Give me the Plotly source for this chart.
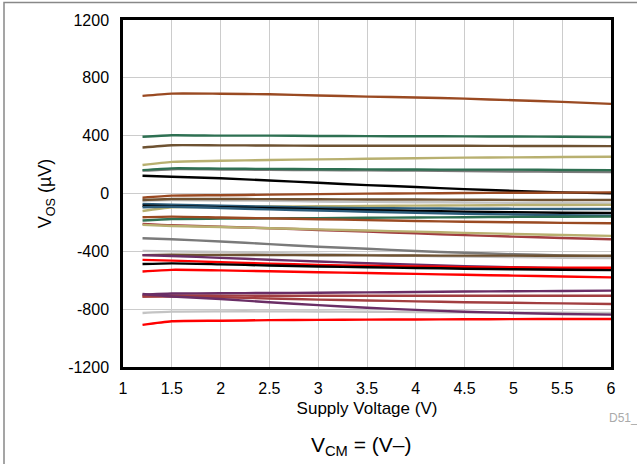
import plotly.graph_objects as go

x_vals = [1.2, 1.5, 2, 2.5, 3, 3.5, 4, 4.5, 5, 5.5, 6]
y_tickvals = [-1200, -800, -400, 0, 400, 800, 1200]
y_ticktext = ["-1200", "-800", "-400", "0", "400", "800", "1200"]
x_tickvals = [1, 1.5, 2, 2.5, 3, 3.5, 4, 4.5, 5, 5.5, 6]
x_ticktext = ["1", "1.5", "2", "2.5", "3", "3.5", "4", "4.5", "5", "5.5", "6"]

brown_top = [675, 691, 690, 686, 678, 670, 664, 656, 645, 634, 620]
green_top = [392, 403, 400, 400, 398, 397, 396, 395, 394, 392, 390]
dkbrown_top = [318, 334, 333, 332, 330, 330, 330, 330, 329, 329, 328]
khaki_top = [197, 219, 226, 232, 236, 240, 244, 248, 250, 252, 254]
gray_hi = [158, 168, 166, 164, 162, 160, 158, 155, 152, 150, 148]
green_2 = [162, 174, 172, 170, 168, 167, 166, 165, 165, 163, 162]
black_1 = [123, 116, 105, 90, 74, 58, 45, 30, 18, 8, 1]
brown_zero = [-29, -15, -12, -8, -4, -1, 1, 3, 5, 6, 8]
dkbrown_2 = [-45, -38, -38, -39, -40, -41, -42, -43, -44, -45, -45]
ltgray_a = [-50, -45, -48, -50, -55, -58, -60, -62, -64, -66, -68]
khaki_2 = [-121, -95, -92, -90, -88, -86, -84, -82, -80, -80, -79]
blue_1 = [-72, -78, -85, -92, -98, -101, -103, -105, -106, -107, -107]
black_2 = [-85, -88, -95, -102, -108, -115, -120, -126, -130, -133, -135]
blue_2 = [-95, -92, -100, -110, -118, -126, -133, -140, -145, -150, -153]
green_3 = [-187, -176, -174, -172, -170, -168, -166, -164, -162, -161, -160]
brown_2 = [-164, -160, -166, -172, -178, -184, -190, -195, -199, -203, -206]
dkred_1 = [-210, -220, -230, -240, -252, -264, -275, -288, -298, -308, -316]
khaki_3 = [-217, -225, -232, -240, -248, -256, -264, -272, -280, -287, -293]
gray_1 = [-309, -316, -332, -350, -368, -382, -398, -410, -420, -428, -436]
ltgray_b = [-397, -400, -405, -412, -418, -425, -431, -436, -440, -444, -447]
dkbrown_3 = [-426, -424, -425, -426, -427, -428, -429, -430, -430, -431, -431]
purple_1 = [-426, -432, -445, -458, -470, -482, -492, -502, -510, -516, -522]
red_1 = [-459, -464, -475, -485, -494, -500, -505, -509, -512, -513, -514]
black_3 = [-488, -483, -490, -498, -505, -510, -515, -520, -524, -527, -530]
red_2 = [-539, -528, -532, -538, -545, -550, -556, -562, -568, -574, -580]
purple_flat = [-700, -692, -690, -688, -686, -684, -681, -678, -676, -674, -672]
dkred_flat = [-712, -705, -706, -707, -707, -707, -707, -707, -707, -707, -707]
dkred_dec = [-712, -712, -718, -726, -734, -740, -746, -752, -756, -760, -764]
purple_dec = [-695, -712, -730, -752, -772, -790, -805, -818, -826, -833, -838]
ltgray_c = [-826, -817, -815, -815, -816, -818, -820, -822, -824, -825, -826]
red_bottom = [-909, -884, -880, -876, -874, -872, -871, -870, -869, -868, -868]

BROWN = "#9A4A22"
GREEN = "#2E7052"
DKBROWN = "#6E5232"
KHAKI = "#B8B070"
BLACK = "#000000"
BLUE = "#2C5C7A"
GRAY = "#7A7A7A"
LTGRAY = "#C4C4C4"
PURPLE = "#6A2E66"
DKRED = "#A23E40"
RED = "#FF0000"

series = [
    (ltgray_a, LTGRAY), (gray_hi, GRAY), (brown_top, BROWN), (green_top, GREEN),
    (dkbrown_top, DKBROWN), (khaki_top, KHAKI), (green_2, GREEN), (black_1, BLACK),
    (brown_zero, BROWN), (dkbrown_2, DKBROWN), (khaki_2, KHAKI), (blue_1, BLUE),
    (black_2, BLACK), (blue_2, BLUE), (green_3, GREEN), (brown_2, BROWN),
    (dkred_1, DKRED), (khaki_3, KHAKI), (gray_1, GRAY), (ltgray_b, LTGRAY),
    (dkbrown_3, DKBROWN), (purple_1, PURPLE), (red_1, RED), (black_3, BLACK),
    (red_2, RED), (dkred_flat, DKRED), (purple_flat, PURPLE), (dkred_dec, DKRED),
    (ltgray_c, LTGRAY), (purple_dec, PURPLE), (red_bottom, RED),
]

fig = go.Figure()
for vals, col in series:
    fig.add_trace(go.Scatter(x=x_vals, y=vals, mode="lines",
                             line=dict(color=col, width=2.4, shape="spline", smoothing=0.6),
                             showlegend=False, hoverinfo="skip"))

font = "Liberation Sans, Arial, sans-serif"
fig.update_layout(
    width=637, height=464,
    margin=dict(l=123, r=26, t=20, b=97),
    paper_bgcolor="white", plot_bgcolor="white",
    font=dict(family=font, size=16, color="black"),
    xaxis=dict(range=[1, 6], tickvals=x_tickvals, ticktext=x_ticktext,
               tickfont=dict(size=16),
               showgrid=True, gridcolor="#CCCCCC",
               gridwidth=1, showline=True, linecolor="black", linewidth=2.5, mirror=True,
               ticks="outside", ticklen=5, tickcolor="rgba(0,0,0,0)", zeroline=False,
               title=dict(text="Supply Voltage (V)", standoff=7, font=dict(size=17))),
    yaxis=dict(range=[-1200, 1200], tickvals=y_tickvals, ticktext=y_ticktext,
               tickfont=dict(size=16),
               showgrid=True, gridcolor="#CCCCCC",
               gridwidth=1, showline=True, linecolor="black", linewidth=2.5, mirror=True,
               ticks="outside", ticklen=8, tickcolor="rgba(0,0,0,0)", zeroline=False,
               title=dict(text="V<sub>OS</sub> (µV)", standoff=12, font=dict(size=18))),
    shapes=[dict(type="rect", xref="paper", yref="paper",
                 x0=(4 - 123) / 488, x1=(645 - 123) / 488,
                 y0=(367 - 470) / 347, y1=(367 - 2.5) / 347,
                 line=dict(color="#888888", width=1.5), layer="below")],
    annotations=[
        dict(text="D51_", xref="paper", yref="paper", x=(607 - 123) / 488, y=(367 - 418) / 347,
             showarrow=False, xanchor="left", yanchor="middle",
             font=dict(size=12, color="#AAAAAA")),
        dict(text="V<sub>CM</sub> = (V–)", xref="paper", yref="paper",
             x=(361 - 123) / 488, y=(367 - 446) / 347, showarrow=False,
             xanchor="center", yanchor="middle", font=dict(size=21, color="black")),
    ],
)

fig.write_html("out.html", config={"displayModeBar": False},
               post_script="document.body.style.margin='0';document.body.style.overflow='hidden';")
